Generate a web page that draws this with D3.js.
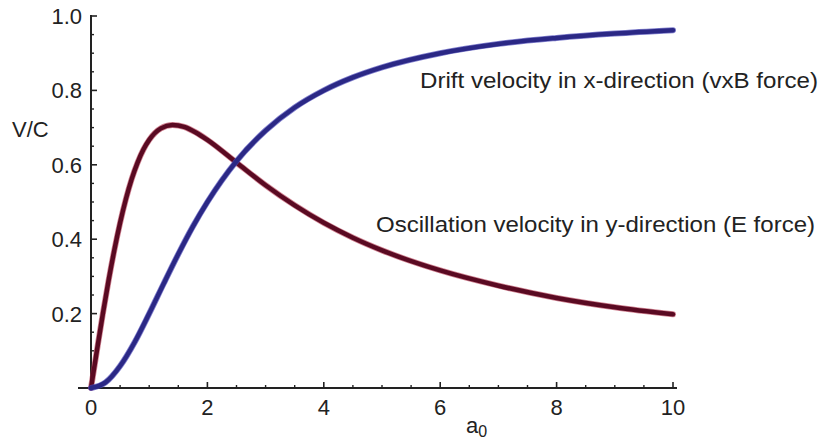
<!DOCTYPE html>
<html><head><meta charset="utf-8">
<script src="https://cdn.jsdelivr.net/npm/d3@7"></script>
<style>body{margin:0;background:#fff}svg{display:block}text{font-family:"Liberation Sans",Arial,sans-serif;fill:#222}</style>
</head><body>
<script>
const a0Osc = [0,0.1,0.2,0.3,0.4,0.5,0.6,0.7,0.8,0.9,1.0,1.2,1.4,1.6,1.8,2.0,2.5,3.0,3.5,4.0,4.5,5,6,7,8,9,10];
const vOsc  = [0,0.099,0.196,0.287,0.370,0.444,0.508,0.562,0.606,0.641,0.667,0.698,0.707,0.702,0.687,0.667,0.606,0.545,0.491,0.444,0.404,0.370,0.316,0.275,0.242,0.217,0.198];
const a0Drift = [0,0.25,0.5,0.75,1.0,1.25,1.5,1.75,2.0,2.5,3.0,3.5,4.0,4.5,5,6,7,8,9,10];
const vDrift  = [0,0.015,0.059,0.123,0.200,0.281,0.360,0.434,0.500,0.610,0.692,0.754,0.800,0.835,0.862,0.900,0.925,0.941,0.953,0.962];
const xTicks = [0,2,4,6,8,10];
const yTicks = [0.2,0.4,0.6,0.8,1.0];
const yTickLabels = ["0.2","0.4","0.6","0.8","1.0"];
const labelDrift = "Drift velocity in x-direction (vxB force)";
const labelOsc = "Oscillation velocity in y-direction (E force)";

const W=827,H=441;
const svg=d3.select("body").append("svg").attr("width",W).attr("height",H);
const x=d3.scaleLinear().domain([0,10]).range([91,673]);
const y=d3.scaleLinear().domain([0,1]).range([388,16]);

// axes lines
svg.append("line").attr("x1",78).attr("x2",677).attr("y1",y(0)).attr("y2",y(0)).attr("stroke","#222").attr("stroke-width",2);
svg.append("line").attr("x1",x(0)).attr("x2",x(0)).attr("y1",y(1)-1).attr("y2",y(0)).attr("stroke","#222").attr("stroke-width",2);

// minor/major ticks
const yMinor=d3.range(0.05,1.001,0.05);
yMinor.forEach(v=>{
  const major=yTicks.some(t=>Math.abs(t-v)<1e-6);
  svg.append("line").attr("x1",x(0)).attr("x2",x(0)+(major?6:3)).attr("y1",y(v)).attr("y2",y(v)).attr("stroke","#222").attr("stroke-width",major?1.6:1.4);
});
const xMinor=d3.range(0.5,10.001,0.5);
xMinor.forEach(v=>{
  const major=xTicks.some(t=>Math.abs(t-v)<1e-6);
  svg.append("line").attr("x1",x(v)).attr("x2",x(v)).attr("y1",y(0)).attr("y2",y(0)-(major?6:3)).attr("stroke","#222").attr("stroke-width",major?1.6:1.4);
});

// tick labels
svg.selectAll(".yt").data(yTicks).enter().append("text")
  .attr("x",82).attr("y",d=>y(d)+8).attr("text-anchor","end").attr("font-size",22)
  .text((d,i)=>yTickLabels[i]);
svg.selectAll(".xt").data(xTicks).enter().append("text")
  .attr("x",d=>x(d)).attr("y",415).attr("text-anchor","middle").attr("font-size",22)
  .text(d=>d);

// axis labels
svg.append("text").attr("x",12).attr("y",137).attr("font-size",22).text("V/C");
const ax=svg.append("text").attr("x",466).attr("y",433).attr("font-size",22);
ax.append("tspan").text("a");
ax.append("tspan").attr("dy",4).attr("font-size",16).text("0");

// curves
const line=d3.line().x(d=>x(d[0])).y(d=>y(d[1])).curve(d3.curveMonotoneX);
const oscData=a0Osc.map((a,i)=>[a,vOsc[i]]);
const driftData=a0Drift.map((a,i)=>[a,vDrift[i]]);
svg.append("path").datum(oscData).attr("d",line).attr("fill","none").attr("stroke","#b0304a").attr("stroke-width",6).attr("stroke-linecap","round").attr("opacity",0.6);
svg.append("path").datum(oscData).attr("d",line).attr("fill","none").attr("stroke","#5a0a22").attr("stroke-width",4.5).attr("stroke-linecap","round");
svg.append("path").datum(driftData).attr("d",line).attr("fill","none").attr("stroke","#4a48b8").attr("stroke-width",6).attr("stroke-linecap","round").attr("opacity",0.7);
svg.append("path").datum(driftData).attr("d",line).attr("fill","none").attr("stroke","#2b2885").attr("stroke-width",4.5).attr("stroke-linecap","round");

// annotations
svg.append("text").attr("x",420).attr("y",88).attr("font-size",22).attr("textLength",398).attr("lengthAdjust","spacingAndGlyphs").text(labelDrift);
svg.append("text").attr("x",376).attr("y",232).attr("font-size",22).attr("textLength",439).attr("lengthAdjust","spacingAndGlyphs").text(labelOsc);
</script>
</body></html>
